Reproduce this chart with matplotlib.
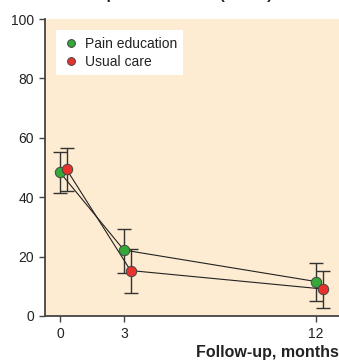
import numpy as np
import matplotlib.pyplot as plt

plt.rcParams['font.family'] = ['Liberation Sans', 'DejaVu Sans']

# data
months = [0, 3, 12]
series = ['Pain education', 'Usual care']
means = {
    'Pain education': [48.4, 22.2, 11.6],
    'Usual care':     [49.4, 15.3, 9.1],
}
lower = {
    'Pain education': [41.3, 14.4, 5.1],
    'Usual care':     [42.1, 7.6, 2.8],
}
upper = {
    'Pain education': [55.1, 29.4, 17.8],
    'Usual care':     [56.5, 22.7, 15.3],
}
offsets = {'Pain education': 0.0, 'Usual care': 0.31}
colors = {'Pain education': '#35a83a', 'Usual care': '#e8332d'}

fig = plt.figure(figsize=(3.39, 3.61), dpi=100)
ax = fig.add_axes([0.1327, 0.1247, 0.8673, 0.8226])
ax.set_facecolor('#fdecd1')

for name in series:
    x = np.array(months) + offsets[name]
    m = np.array(means[name])
    err = [m - np.array(lower[name]), np.array(upper[name]) - m]
    ax.errorbar(x, m, yerr=err, fmt='none', ecolor='#333333', elinewidth=1.0,
                capsize=5, capthick=1.0, zorder=2)
    ax.plot(x, m, color='#222222', lw=0.8, zorder=3)
    ax.plot(x, m, 'o', color=colors[name], mec='#444444', mew=0.7, ms=7.5,
            zorder=4, label=name)

ax.set_xlim(-0.7, 13.08)
ax.set_ylim(0, 100)
ax.set_xticks(months)
ax.set_yticks([0, 20, 40, 60, 80, 100])

for s in ['top', 'right']:
    ax.spines[s].set_visible(False)
for s in ['left', 'bottom']:
    ax.spines[s].set_color('#444444')
    ax.spines[s].set_linewidth(1.3)
ax.tick_params(direction='out', length=4, width=1.0, color='#444444',
               labelsize=10, labelcolor='#222222', pad=4)

ax.set_xlabel('Follow-up, months', loc='right', fontsize=11.5,
              fontweight='bold', color='#222222', labelpad=3)

leg = ax.legend(loc='upper left', bbox_to_anchor=(0.015, 0.985), fontsize=10,
                frameon=True, fancybox=False, edgecolor='none',
                facecolor='white', framealpha=1, markerscale=0.75,
                handletextpad=0.4, borderpad=0.45, handlelength=1.2,
                labelspacing=0.3)
for t in leg.get_texts():
    t.set_color('#222222')

# title sits above the top edge, only its descenders show
fig.text(0.53, 1.002, 'Depression score (0–100)', ha='center', va='baseline',
         fontsize=11, fontweight='bold', color='#222222')

fig.savefig('out.png', dpi=100)
